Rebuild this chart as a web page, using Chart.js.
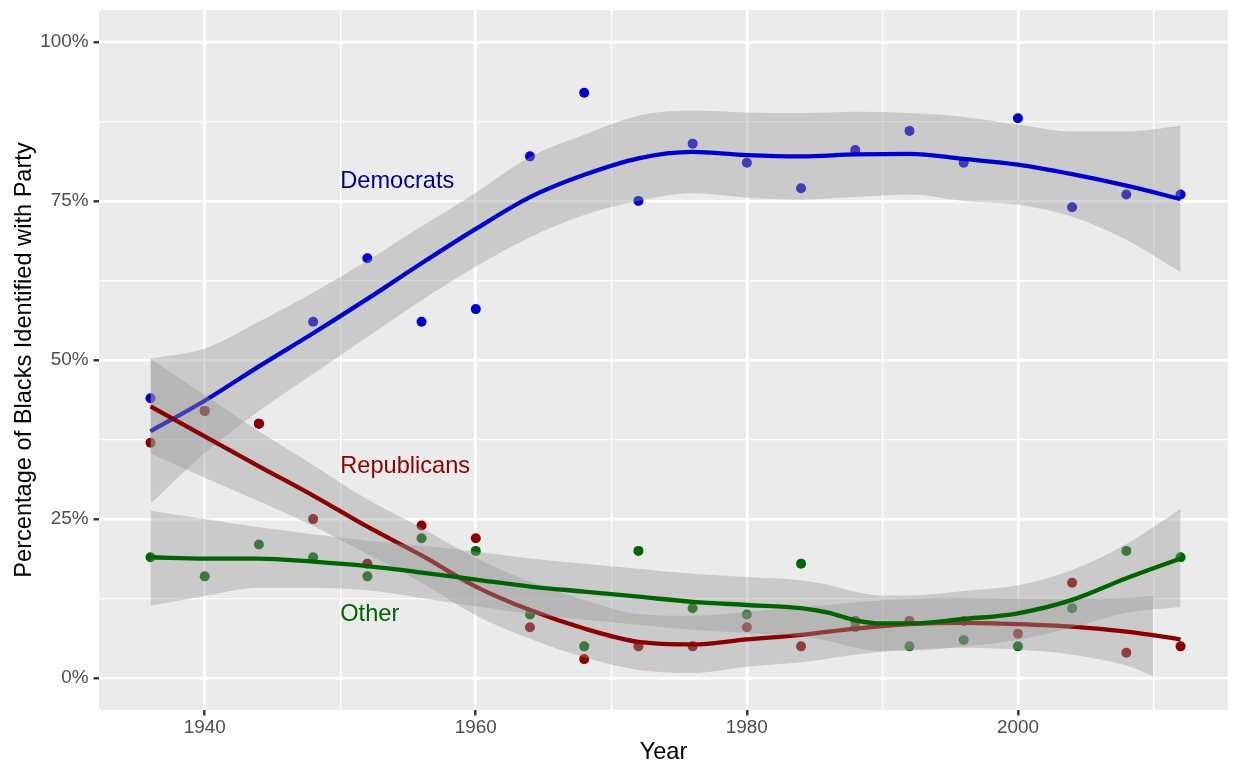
<!DOCTYPE html>
<html>
<head>
<meta charset="utf-8">
<script src="https://cdn.jsdelivr.net/npm/chart.js@4.4.1/dist/chart.umd.min.js"></script>
<style>
  html, body { margin: 0; padding: 0; background: #fff; }
</style>
</head>
<body>
<canvas id="partidos" width="1233" height="768"></canvas>
<script>
// survey points
const years = [1936, 1940, 1944, 1948, 1952, 1956, 1960, 1964, 1968, 1972, 1976, 1980, 1984, 1988, 1992, 1996, 2000, 2004, 2008, 2012]
const democrats = [44, 42, 40, 56, 66, 56, 58, 82, 92, 75, 84, 81, 77, 83, 86, 81, 88, 74, 76, 76]
const republicans = [37, 42, 40, 25, 18, 24, 22, 8, 3, 5, 5, 8, 5, 9, 9, 9, 7, 15, 4, 5]
const other = [19, 16, 21, 19, 16, 22, 20, 10, 5, 20, 11, 10, 18, 8, 5, 6, 5, 11, 20, 19]

// smoothed fits and their bands
const demFit = [38.8, 43.6, 49.0, 54.2, 59.6, 65.2, 70.6, 75.6, 79.1, 81.7, 82.7, 82.2, 82.0, 82.3, 82.4, 81.6, 80.7, 79.2, 77.4, 75.3]
const demUpper = [50.2, 51.8, 56.0, 60.6, 65.6, 71.0, 76.3, 81.9, 85.4, 88.4, 89.2, 88.9, 88.8, 89.0, 88.8, 88.2, 87.0, 85.9, 85.9, 86.8]
const demLower = [27.4, 35.4, 42.0, 47.8, 53.6, 59.4, 64.7, 69.3, 72.8, 75.0, 76.2, 75.5, 75.2, 75.6, 76.0, 75.0, 74.4, 72.5, 68.9, 63.8]

const repFit = [42.7, 38.0, 33.3, 28.7, 23.8, 19.3, 14.4, 10.7, 7.8, 5.7, 5.3, 6.1, 6.8, 7.8, 8.5, 8.7, 8.5, 8.1, 7.3, 6.1]
const repBandYears = [1936, 1940, 1944, 1948, 1952, 1956, 1960, 1964, 1968, 1972, 1976, 1980, 1984, 1988, 1992, 1996, 2000, 2004, 2008, 2010]
const repUpper = [50.2, 44.5, 38.8, 33.5, 28.1, 23.6, 18.9, 15.2, 12.3, 10.1, 9.8, 10.4, 11.1, 11.9, 12.5, 12.6, 12.5, 12.5, 12.6, 12.9]
const repLower = [35.3, 31.5, 27.8, 23.9, 19.5, 15.0, 9.9, 6.2, 3.3, 1.3, 0.8, 1.8, 2.5, 3.7, 4.5, 4.8, 4.5, 3.7, 2.0, 0.3]

const otherYears = [1936, 1940, 1944, 1948, 1952, 1956, 1960, 1964, 1968, 1972, 1976, 1980, 1984, 1986, 1988, 1990, 1992, 1996, 2000, 2004, 2008, 2012]
const otherFit = [19.0, 18.8, 18.8, 18.3, 17.6, 16.6, 15.5, 14.4, 13.6, 12.8, 12.0, 11.5, 11.0, 10.3, 9.1, 8.6, 8.6, 9.3, 10.2, 12.3, 15.7, 18.8]
const otherUpper = [26.3, 25.0, 23.7, 22.6, 21.6, 20.8, 19.9, 18.8, 18.0, 17.2, 16.4, 15.9, 15.4, 14.7, 13.6, 13.0, 13.0, 13.7, 14.6, 17.0, 21.1, 26.6]
const otherLower = [11.4, 12.9, 14.2, 14.2, 13.8, 12.6, 11.3, 10.1, 9.2, 8.4, 7.6, 7.1, 6.6, 5.9, 4.8, 4.3, 4.3, 5.0, 6.0, 8.0, 10.3, 11.2]

// axes
const xMajor = [1940, 1960, 1980, 2000]
const xMinor = [1950, 1970, 1990, 2010]
const yMajor = [0, 25, 50, 75, 100]
const yMinor = [12.5, 37.5, 62.5, 87.5]

// in-plot labels
const labelNames = ['Democrats', 'Republicans', 'Other']
const labelYear = 1950
const labelValues = [78, 33.3, 10]

const colDem = '#0000CD'
const colRep = '#8B0000'
const colOther = '#006400'
const labelColors = ['#00008B', '#8B0000', '#006400']
const bandFill = 'rgba(153,153,153,0.4)'
const fontFam = "'Liberation Sans', Arial, Helvetica, sans-serif"

Chart.defaults.font.family = fontFam

const toXY = (xs, ys) => xs.map((x, i) => ({ x: x, y: ys[i] }))

const puntos = (data, color, order) => ({
    data: toXY(years, data),
    showLine: false,
    pointRadius: 5,
    pointHoverRadius: 5,
    pointBorderWidth: 0,
    pointBackgroundColor: color,
    borderColor: color,
    order: order
})

const banda = (xs, ys, order, fill) => ({
    data: toXY(xs, ys),
    borderColor: 'transparent',
    borderWidth: 0,
    pointRadius: 0,
    pointHitRadius: 0,
    backgroundColor: bandFill,
    cubicInterpolationMode: 'monotone',
    fill: fill,
    order: order
})

const curva = (xs, ys, color, order) => ({
    data: toXY(xs, ys),
    borderColor: color,
    borderWidth: 4.3,
    pointRadius: 0,
    pointHitRadius: 0,
    fill: false,
    cubicInterpolationMode: 'monotone',
    borderCapStyle: 'butt',
    order: order
})

const panelBg = {
    id: 'panelBg',
    beforeDraw(chart) {
        const { ctx, chartArea: a } = chart
        ctx.save()
        ctx.fillStyle = '#EBEBEB'
        ctx.fillRect(a.left, a.top, a.right - a.left, a.bottom - a.top)
        ctx.restore()
    }
}

const etiquetas = {
    id: 'etiquetas',
    afterDatasetsDraw(chart) {
        const { ctx, scales } = chart
        ctx.save()
        ctx.font = '23.6px ' + fontFam
        ctx.textAlign = 'left'
        ctx.textBaseline = 'middle'
        labelNames.forEach((name, i) => {
            ctx.fillStyle = labelColors[i]
            ctx.fillText(name, scales.x.getPixelForValue(labelYear), scales.y.getPixelForValue(labelValues[i]))
        })
        ctx.restore()
    }
}

const isMajor = (list, v) => list.some(m => Math.abs(m - v) < 1e-6)
const noPad = s => { s.paddingTop = 0; s.paddingBottom = 0; s.paddingLeft = 0; s.paddingRight = 0 }

new Chart(document.getElementById('partidos'), {
    type: 'line',
    data: {
        datasets: [
            puntos(democrats, colDem, 12),
            puntos(republicans, colRep, 11),
            puntos(other, colOther, 10),
            banda(years, demUpper, 9, false),
            banda(years, demLower, 9, '-1'),
            curva(years, demFit, colDem, 8),
            banda(repBandYears, repUpper, 7, false),
            banda(repBandYears, repLower, 7, '-1'),
            curva(years, repFit, colRep, 6),
            banda(otherYears, otherUpper, 5, false),
            banda(otherYears, otherLower, 5, '-1'),
            curva(otherYears, otherFit, colOther, 4)
        ]
    },
    options: {
        responsive: false,
        animation: false,
        devicePixelRatio: 1,
        layout: { padding: { top: 10, right: 0, left: 0, bottom: 0 } },
        plugins: {
            legend: { display: false },
            tooltip: { enabled: false }
        },
        scales: {
            x: {
                type: 'linear',
                min: 1932.2,
                max: 2015.5,
                afterBuildTicks: s => { s.ticks = xMajor.concat(xMinor).sort((a, b) => a - b).map(v => ({ value: v })) },
                afterFit: s => { s.height = 58; noPad(s) },
                border: { display: false },
                grid: {
                    color: '#FFFFFF',
                    lineWidth: c => isMajor(xMajor, c.tick.value) ? 2.6 : 1.3,
                    tickColor: c => isMajor(xMajor, c.tick.value) ? '#333333' : 'rgba(0,0,0,0)',
                    tickWidth: 2.4,
                    tickLength: 5.5
                },
                ticks: {
                    autoSkip: false,
                    maxRotation: 0,
                    padding: 1,
                    color: '#4D4D4D',
                    font: { size: 18.9 },
                    callback: v => isMajor(xMajor, v) ? String(v) : ''
                },
                title: {
                    display: true,
                    text: 'Year',
                    color: '#000000',
                    font: { size: 23.6 },
                    padding: { top: 0, bottom: 1 }
                }
            },
            y: {
                type: 'linear',
                min: -5,
                max: 105,
                afterBuildTicks: s => { s.ticks = yMajor.concat(yMinor).sort((a, b) => a - b).map(v => ({ value: v })) },
                afterFit: s => { s.width = 99; noPad(s) },
                border: { display: false },
                grid: {
                    color: '#FFFFFF',
                    lineWidth: c => isMajor(yMajor, c.tick.value) ? 2.6 : 1.3,
                    tickColor: c => isMajor(yMajor, c.tick.value) ? '#333333' : 'rgba(0,0,0,0)',
                    tickWidth: 2.4,
                    tickLength: 5.5
                },
                ticks: {
                    autoSkip: false,
                    padding: 5,
                    color: '#4D4D4D',
                    font: { size: 18.9 },
                    callback: v => isMajor(yMajor, v) ? v + '%' : ''
                },
                title: {
                    display: true,
                    text: 'Percentage of Blacks Identified with Party',
                    color: '#000000',
                    font: { size: 23.6 },
                    padding: { top: 10, bottom: 0 }
                }
            }
        }
    },
    plugins: [panelBg, etiquetas]
})
</script>
</body>
</html>
